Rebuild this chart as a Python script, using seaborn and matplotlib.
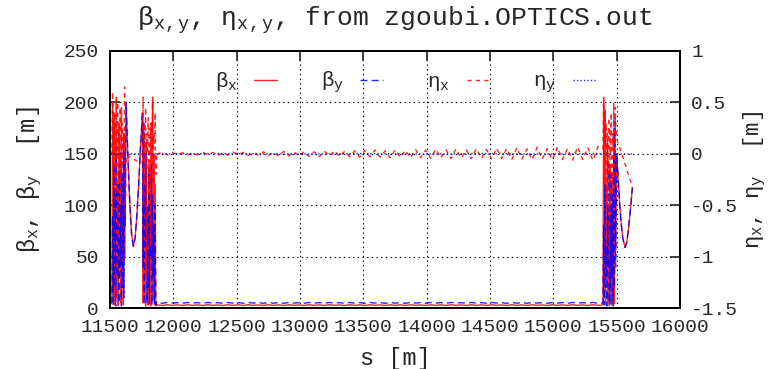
import numpy as np
import matplotlib
matplotlib.use("Agg")
import matplotlib.pyplot as plt
import seaborn as sns

# --- data (s in m, beta in m, eta in m) ---
# first arc end: dense oscillations, a drift, dense oscillations again
s_left = [11500, 11510, 11515, 11520, 11525, 11530, 11535, 11540, 11545, 11550,
          11555, 11560, 11565, 11570, 11575, 11580, 11585, 11590, 11595, 11600,
          11605, 11610, 11615, 11620, 11627,
          11640, 11655, 11670, 11684, 11698, 11712, 11726, 11740,
          11756, 11761, 11766, 11771, 11776, 11781, 11786, 11791, 11796, 11801,
          11806, 11811, 11816, 11821, 11826, 11831, 11836, 11841, 11846, 11851,
          11856, 11861, 11866, 11872]
betx_left = [4, 4, 5, 200, 15, 190, 3, 160, 40, 205,
             10, 120, 2, 180, 30, 150, 5, 195, 20, 100,
             3, 170, 50, 130, 200,
             150, 105, 72, 60, 68, 90, 120, 155,
             190, 5, 170, 10, 130, 2, 160, 30, 90, 3,
             140, 15, 110, 2, 180, 40, 205, 8, 150, 3,
             120, 2, 4, 3]
bety_left = [6, 6, 6, 90, 3, 140, 20, 110, 2, 150,
             60, 30, 120, 5, 140, 40, 100, 2, 130, 20,
             160, 10, 150, 80, 200,
             150, 105, 72, 60, 68, 90, 120, 155,
             190, 40, 180, 3, 120, 60, 150, 5, 100, 20,
             130, 4, 90, 50, 140, 3, 110, 30, 80, 5,
             100, 3, 6, 5]
etax_left = [0, 0, 0, 0.6, -0.2, 0.3, 0.1, 0.4, -0.4, 0.25,
             0.05, 0.5, -0.8, 0.2, 0.1, 0.45, -0.3, 0.15, 0.3, -0.1,
             0.2, 0.05, 0.65, -0.6, -0.01,
             -0.02, -0.03, -0.04, -0.05, -0.06, -0.07, -0.075, -0.08,
             -0.09, 0.55, -0.5, 0.3, 0.1, 0.45, -1.2, 0.2, 0.0, 0.35,
             -0.4, 0.1, 0.25, -0.9, 0.3, 0.05, 0.5, -0.3, 0.2, 0.1,
             0.4, -0.2, 0.01, 0.0]

# long straight middle: beta small, eta_x wiggling around zero
s_mid = np.arange(11912, 15392, 40)
betx_mid = [2.4, 3.2, 2.6, 3.0, 2.4, 3.2, 2.5, 3.1, 2.4, 3.2, 2.6, 3.0, 2.4, 3.2, 2.5,
            3.1, 2.4, 3.2, 2.6, 3.0, 2.4, 3.2, 2.5, 3.1, 2.4, 3.2, 2.6, 3.0, 2.4, 3.2,
            2.5, 3.1, 2.4, 3.2, 2.6, 3.0, 2.4, 3.2, 2.5, 3.1, 2.4, 3.2, 2.6, 3.0, 2.4,
            3.2, 2.5, 3.1, 2.4, 3.2, 2.6, 3.0, 2.4, 3.2, 2.5, 3.1, 2.4, 3.2, 2.6, 3.0,
            2.4, 3.2, 2.5, 3.1, 2.4, 3.2, 2.6, 3.0, 2.4, 3.2, 2.5, 3.1, 2.4, 3.2, 2.6,
            3.0, 2.4, 3.2, 2.5, 3.1, 2.4, 3.2, 2.6, 3.0, 2.4, 3.2, 2.5]
bety_mid = [4.6, 5.4, 4.8, 5.2, 4.6, 5.4, 4.7, 5.3, 4.6, 5.4, 4.8, 5.2, 4.6, 5.4, 4.7,
            5.3, 4.6, 5.4, 4.8, 5.2, 4.6, 5.4, 4.7, 5.3, 4.6, 5.4, 4.8, 5.2, 4.6, 5.4,
            4.7, 5.3, 4.6, 5.4, 4.8, 5.2, 4.6, 5.4, 4.7, 5.3, 4.6, 5.4, 4.8, 5.2, 4.6,
            5.4, 4.7, 5.3, 4.6, 5.4, 4.8, 5.2, 4.6, 5.4, 4.7, 5.3, 4.6, 5.4, 4.8, 5.2,
            4.6, 5.4, 4.7, 5.3, 4.6, 5.4, 4.8, 5.2, 4.6, 5.4, 4.7, 5.3, 4.6, 5.4, 4.8,
            5.2, 4.6, 5.4, 4.7, 5.3, 4.6, 5.4, 4.8, 5.2, 4.6, 5.4, 4.7]
etax_mid = [0.01, -0.01, 0.012, -0.008, 0.01, -0.012, 0.008, -0.01, 0.014, -0.01,
            0.012, -0.014, 0.01, -0.012, 0.016, -0.01, 0.014, -0.016, 0.012, -0.014,
            0.02, -0.018, 0.016, -0.022, 0.024, -0.02, 0.018, -0.024, 0.022, -0.026,
            0.02, -0.028, 0.026, -0.022, 0.03, -0.026, 0.024, -0.03, 0.028, -0.032,
            0.034, -0.03, 0.036, -0.034, 0.03, -0.038, 0.04, -0.036, 0.034, -0.04,
            0.042, -0.038, 0.036, -0.044, 0.046, -0.04, 0.038, -0.046, 0.048, -0.042,
            0.04, -0.048, 0.05, -0.044, 0.042,
            -0.05, 0.055, -0.046, 0.05, -0.055, 0.06, -0.05, 0.048, -0.058, 0.062,
            -0.052, 0.05, -0.06, 0.065, -0.055, 0.052, -0.062, 0.068, -0.056, 0.06,
            -0.064, 0.07]

# second arc end: dense oscillations then a drift to the end of the file
s_right = [15392, 15397, 15402, 15407, 15412, 15417, 15422, 15427, 15432, 15437,
           15442, 15447, 15452, 15457, 15462, 15467, 15472, 15477, 15482, 15487,
           15492, 15500,
           15512, 15524, 15536, 15548, 15566, 15580, 15594, 15608, 15624]
betx_right = [3, 205, 10, 190, 3, 120, 30, 160, 5, 90,
              2, 140, 20, 100, 3, 130, 10, 170, 4, 150,
              60, 150,
              125, 100, 82, 68, 59, 64, 78, 95, 117]
bety_right = [5, 80, 3, 120, 20, 60, 2, 100, 40, 140,
              5, 90, 3, 130, 30, 110, 2, 150, 20, 185,
              40, 150,
              125, 100, 82, 68, 59, 64, 78, 95, 117]
etax_right = [0.05, 0.5, -0.3, 0.45, 0.1, 0.3, -0.5, 0.2, -0.2, 0.35,
              -1.0, 0.25, 0.0, 0.4, -0.4, 0.2, 0.05, 0.5, -0.2, 0.45,
              0.3, 0.15,
              0.10, 0.06, 0.01, -0.03, -0.10, -0.15, -0.21, -0.26, -0.33]

# eta_y stays on zero all along
s_etay = [11500, 11627, 11756, 11872, 12500, 13000, 13500, 14000, 14500, 15000, 15392, 15500, 15624]
etay = [0.0, 0.003, -0.002, 0.0, 0.002, -0.002, 0.002, -0.002, 0.002, -0.002, 0.003, 0.0, 0.0]

s = np.concatenate([s_left, s_mid, s_right])
betx = np.concatenate([betx_left, betx_mid, betx_right])
bety = np.concatenate([bety_left, bety_mid, bety_right])
etax = np.concatenate([etax_left, etax_mid, etax_right])

xticks = list(range(11500, 16001, 500))
yticks = [0, 50, 100, 150, 200, 250]
y2ticks = [-1.5, -1, -0.5, 0, 0.5, 1]
y2labels = ['-1.5', '-1', '-0.5', '0', '0.5', '1']

sns.set_style("white")
plt.rcParams['font.family'] = ['Liberation Mono', 'DejaVu Sans']
plt.rcParams['mathtext.fontset'] = 'custom'
plt.rcParams['mathtext.rm'] = 'Liberation Mono'
plt.rcParams['mathtext.it'] = 'Liberation Mono'

fig = plt.figure(figsize=(7.76, 3.69), dpi=100)
ax = fig.add_axes([0.1418, 0.1653, 0.7345, 0.6965])
ax2 = ax.twinx()

sns.lineplot(x=s, y=betx, ax=ax, color='#ff0000', lw=1.0, alpha=0.85, sort=False,
             estimator=None)
sns.lineplot(x=s, y=bety, ax=ax, color='#0000ff', lw=1.0, alpha=0.85, sort=False,
             estimator=None, linestyle=(0, (5, 3)))
sns.lineplot(x=s, y=etax, ax=ax2, color='#ff0000', lw=1.0, alpha=0.85, sort=False,
             estimator=None, linestyle=(0, (3, 3)))
sns.lineplot(x=s_etay, y=etay, ax=ax2, color='#0000ff', lw=1.0, alpha=0.85, sort=False,
             estimator=None, linestyle=(0, (1, 1.5)))

ax.set_xlim(11500, 16000)
ax.set_ylim(0, 250)
ax2.set_ylim(-1.5, 1)
ax.set_xticks(xticks)
ax.set_xticklabels([str(t) for t in xticks])
ax.set_yticks(yticks)
ax2.set_yticks(y2ticks)
ax2.set_yticklabels(y2labels)

ax.grid(True, color='black', linestyle=(0, (1.2, 3)), lw=0.8)
ax.tick_params(direction='in', length=7, width=1.2, top=True, right=False,
               labelsize=14, pad=8)
ax2.tick_params(direction='in', length=7, width=1.2, labelsize=14, pad=8)
for a in (ax, ax2):
    for sp in a.spines.values():
        sp.set_linewidth(1.3)
        sp.set_color('black')

ax.set_title(r'$\mathrm{β_{x,y}}$, $\mathrm{η_{x,y}}$, from zgoubi.OPTICS.out',
             fontsize=19, pad=18)
ax.set_xlabel('s [m]', fontsize=17, labelpad=8)
ax.set_ylabel(r'$\mathrm{β_x}$, $\mathrm{β_y}$  [m]', fontsize=17, labelpad=14)
ax2.set_ylabel(r'$\mathrm{η_x}$, $\mathrm{η_y}$  [m]', fontsize=16, labelpad=3)

handles = ax.get_lines()[:2] + ax2.get_lines()[:2]
labels = [r'$\mathrm{β_x}$', r'$\mathrm{β_y}$', r'$\mathrm{η_x}$', r'$\mathrm{η_y}$']
leg = ax2.legend(handles, labels, loc='upper center', bbox_to_anchor=(0.518, 1.0),
                 ncol=4, frameon=False, markerfirst=False, fontsize=15,
                 handlelength=1.1, columnspacing=2.1, handletextpad=0.8)

fig.savefig('out.png', dpi=100)
